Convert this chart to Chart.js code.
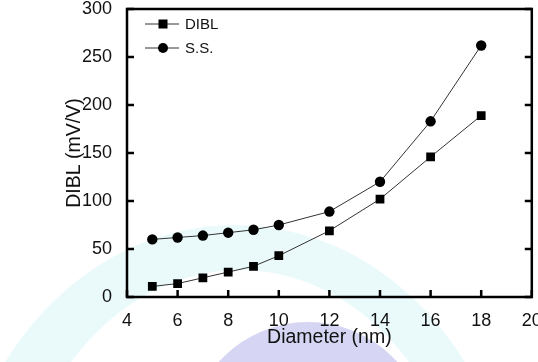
<!DOCTYPE html>
<html>
<head>
<meta charset="utf-8">
<script src="https://cdn.jsdelivr.net/npm/chart.js@4/dist/chart.umd.min.js"></script>
<style>
  html, body { margin: 0; padding: 0; background: #fff; overflow: hidden; }
  canvas { display: block; }
</style>
</head>
<body>
<canvas id="myChart" width="538" height="362"></canvas>
<script>
// values
const diameter = [5, 6, 7, 8, 9, 10, 12, 14, 16, 18];
const dibl = [11, 14, 20, 26, 32, 43, 69, 102, 146, 189];
const ss = [60, 62, 64, 67, 70, 75, 89, 120, 183, 262];
const seriesNames = ['DIBL', 'S.S.'];

const FONT = "'Liberation Sans', Arial, sans-serif";

function toPoints(ys) {
  return diameter.map((d, i) => ({x: d, y: ys[i]}));
}

// faint watermark behind the plot
const watermark = {
  id: 'watermark',
  beforeDraw(chart) {
    const ctx = chart.ctx;
    ctx.save();
    ctx.fillStyle = '#eafafb';
    ctx.beginPath();
    ctx.ellipse(235, 545, 280, 320, 0, 0, Math.PI * 2);
    ctx.ellipse(240, 550, 228, 280, 0, 0, Math.PI * 2, true);
    ctx.fill('evenodd');
    ctx.fillStyle = '#d6d6f4';
    ctx.beginPath();
    ctx.arc(308, 442, 120, 0, Math.PI * 2);
    ctx.fill();
    ctx.restore();
  }
};

// box frame, inward ticks and the legend
const frame = {
  id: 'frame',
  afterDraw(chart) {
    const ctx = chart.ctx;
    const {left, right, top, bottom} = chart.chartArea;
    const xs = chart.scales.x, ys = chart.scales.y;
    ctx.save();
    ctx.strokeStyle = '#000';
    ctx.lineWidth = 2.5;
    ctx.strokeRect(left, top, right - left, bottom - top);
    ctx.beginPath();
    xs.ticks.forEach(t => {
      const px = xs.getPixelForValue(t.value);
      ctx.moveTo(px, bottom);
      ctx.lineTo(px, bottom - 7);
    });
    ys.ticks.forEach(t => {
      const py = ys.getPixelForValue(t.value);
      ctx.moveTo(left, py);
      ctx.lineTo(left + 7, py);
      ctx.moveTo(right, py);
      ctx.lineTo(right - 7, py);
    });
    ctx.stroke();

    // legend
    chart.data.datasets.forEach((ds, i) => {
      const y = 24 + i * 24;
      ctx.strokeStyle = ds.borderColor;
      ctx.lineWidth = 1;
      ctx.beginPath();
      ctx.moveTo(145, y);
      ctx.lineTo(179, y);
      ctx.stroke();
      ctx.fillStyle = '#000';
      if (ds.pointStyle === 'rect') {
        ctx.fillRect(163 - 4.5, y - 4.5, 9, 9);
      } else {
        ctx.beginPath();
        ctx.arc(163, y, 5, 0, Math.PI * 2);
        ctx.fill();
      }
      ctx.fillStyle = '#111';
      ctx.font = '15px ' + FONT;
      ctx.textBaseline = 'middle';
      ctx.fillText(ds.label, 185, y + 1);
    });
    ctx.restore();
  }
};

const config = {
  type: 'line',
  data: {
    datasets: [{
      label: seriesNames[0],
      data: toPoints(dibl),
      borderColor: '#333',
      borderWidth: 1,
      pointStyle: 'rect',
      pointRadius: 6.2,
      pointBackgroundColor: '#000',
      pointBorderColor: '#000',
      pointBorderWidth: 0
    }, {
      label: seriesNames[1],
      data: toPoints(ss),
      borderColor: '#333',
      borderWidth: 1,
      pointStyle: 'circle',
      pointRadius: 5.2,
      pointBackgroundColor: '#000',
      pointBorderColor: '#000',
      pointBorderWidth: 0
    }]
  },
  plugins: [watermark, frame],
  options: {
    responsive: false,
    animation: false,
    devicePixelRatio: 1,
    layout: { padding: { left: 0, right: 6, top: 9, bottom: 0 } },
    plugins: { legend: { display: false }, tooltip: { enabled: false } },
    scales: {
      x: {
        type: 'linear',
        min: 4, max: 20,
        ticks: { stepSize: 2, padding: 5, color: '#111', font: { family: FONT, size: 18 }, maxRotation: 0 },
        grid: { display: false },
        border: { display: false },
        title: { display: true, text: 'Diameter (nm)', color: '#111', font: { family: FONT, size: 19.5 }, padding: { top: 0, bottom: 13 } },
        afterFit(s) { s.height = 65; s.paddingLeft = 0; s.paddingRight = 0; }
      },
      y: {
        min: 0, max: 300,
        ticks: { stepSize: 50, padding: 7, color: '#111', font: { family: FONT, size: 18 } },
        grid: { display: false },
        border: { display: false },
        title: { display: true, text: 'DIBL (mV/V)', color: '#111', font: { family: FONT, size: 19.5 }, padding: { top: 63, bottom: 0 } },
        afterFit(s) { s.width = 127; s.paddingTop = 0; s.paddingBottom = 0; }
      }
    }
  }
};

const ctx = document.getElementById('myChart').getContext('2d');
const myChart = new Chart(ctx, config);
</script>
</body>
</html>
